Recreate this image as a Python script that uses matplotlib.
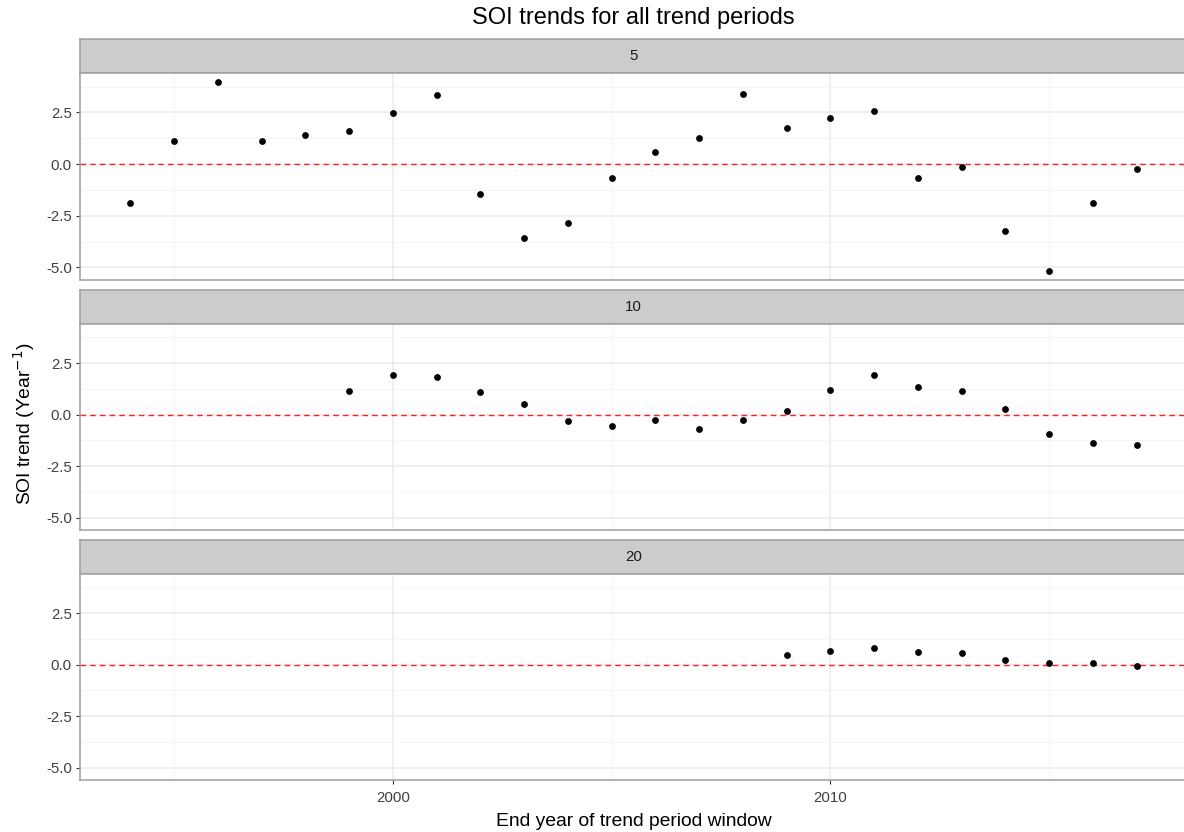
import numpy as np
import matplotlib
matplotlib.use("Agg")
import matplotlib.pyplot as plt
from matplotlib.ticker import FixedLocator

plt.rcParams['font.family'] = ['Liberation Sans', 'DejaVu Sans']

# SOI trend per window length (years), indexed by end year of the window
years_5 = list(range(1994, 2018))
trend_5 = [-1.88, 1.14, 3.95, 1.14, 1.39, 1.58, 2.48, 3.33, -1.46, -3.59, -2.85,
           -0.66, 0.59, 1.27, 3.40, 1.75, 2.24, 2.55, -0.66, -0.13, -3.22, -5.15,
           -1.88, -0.24]

years_10 = list(range(1999, 2018))
trend_10 = [1.15, 1.94, 1.81, 1.08, 0.53, -0.32, -0.56, -0.26, -0.68, -0.26, 0.16,
            1.21, 1.94, 1.33, 1.15, 0.29, -0.92, -1.40, -1.47]

years_20 = list(range(2009, 2018))
trend_20 = [0.48, 0.66, 0.79, 0.61, 0.55, 0.24, 0.06, 0.06, -0.06]

facets = ["5", "10", "20"]
series = [(years_5, trend_5), (years_10, trend_10), (years_20, trend_20)]

y_ticks = [-5.0, -2.5, 0.0, 2.5]
y_tick_labels = ["-5.0", "-2.5", "0.0", "2.5"]
x_ticks = [2000, 2010]

W, H = 1184, 832
fig = plt.figure(figsize=(W / 100, H / 100), dpi=100)

def px_axes(x0, y0, x1, y1):
    # pixel box given with top-left origin
    return fig.add_axes([x0 / W, 1 - y1 / H, (x1 - x0) / W, (y1 - y0) / H])

# shared scale limits (ggplot-style 5% expansion)
all_x = years_5 + years_10 + years_20
all_y = trend_5 + trend_10 + trend_20
xr = max(all_x) - min(all_x)
yr = max(all_y) - min(all_y)
xlim = (min(all_x) - 0.05 * xr, max(all_x) + 0.05 * xr)
ylim = (min(all_y) - 0.05 * yr, max(all_y) + 0.05 * yr)

left, right = 80, 1187
rows = [(39, 73, 280), (290, 324, 530), (540, 574, 780)]
border = "#9E9E9E"

for i, ((st, sb, pb), label, (xs, ys)) in enumerate(zip(rows, facets, series)):
    # strip
    sax = px_axes(left, st, right, sb)
    sax.set_facecolor("#CCCCCC")
    sax.set_xticks([])
    sax.set_yticks([])
    for sp in sax.spines.values():
        sp.set_color(border)
        sp.set_linewidth(1.1)
    sax.text(0.5, 0.5, label, transform=sax.transAxes, ha="center", va="center",
             fontsize=10.8, color="#1A1A1A")

    ax = px_axes(left, sb, right, pb)
    ax.set_xlim(*xlim)
    ax.set_ylim(*ylim)
    ax.xaxis.set_major_locator(FixedLocator(x_ticks))
    ax.xaxis.set_minor_locator(FixedLocator([1995, 2005, 2015]))
    ax.yaxis.set_major_locator(FixedLocator(y_ticks))
    ax.yaxis.set_minor_locator(FixedLocator([-3.75, -1.25, 1.25, 3.75]))
    ax.grid(True, which="major", color="#EBEBEB", linewidth=1.1)
    ax.grid(True, which="minor", color="#F4F4F4", linewidth=0.6)
    ax.set_axisbelow(True)
    ax.set_yticklabels(y_tick_labels)
    ax.tick_params(axis="both", which="major", length=2.8, width=0.8, color="#333333",
                   labelsize=10.8, labelcolor="#404040")
    ax.tick_params(axis="y", which="major", pad=3.0)
    ax.tick_params(axis="x", which="major", pad=5.0)
    ax.tick_params(axis="both", which="minor", length=0)
    if i < 2:
        ax.tick_params(axis="x", which="major", length=0, labelbottom=False)
    for sp in ax.spines.values():
        sp.set_color(border)
        sp.set_linewidth(1.1)

    ax.axhline(0, color="#FF2020", linestyle=(0, (4, 3)), linewidth=1.0, zorder=2)
    ax.scatter(xs, ys, s=24, color="black", zorder=3, linewidths=0)

fig.text(633.5 / W, 1 - 18 / H, "SOI trends for all trend periods", ha="center",
         va="center", fontsize=17, color="black")
fig.text(633.5 / W, 1 - 821 / H, "End year of trend period window", ha="center",
         va="center", fontsize=13.9, color="black")
fig.text(24 / W, 1 - 424 / H, "SOI trend (Year$^{-1}$)", ha="center", va="center",
         rotation=90, fontsize=13.9, color="black")

fig.savefig("out.png", dpi=100)
